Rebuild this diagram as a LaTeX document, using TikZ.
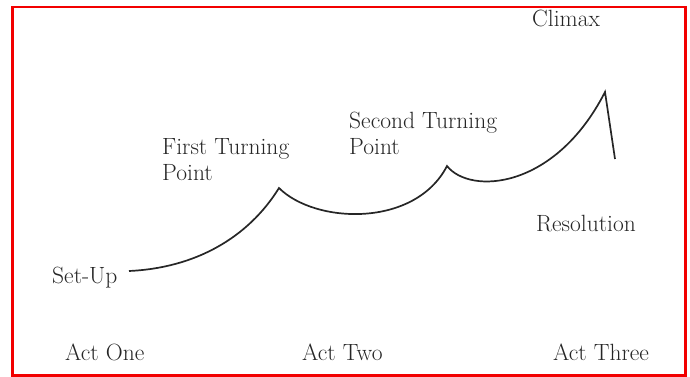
\documentclass[tikz,border=0pt]{standalone}
\usepackage{xcolor}
\usepackage{tikz}
\usetikzlibrary{positioning,calc}
\definecolor{ink}{HTML}{262626}
\definecolor{frame}{HTML}{F20000}
\tikzset{
  lbl/.style={font=\fontsize{23.5}{26}\selectfont,text=ink,align=left,inner sep=0pt,anchor=base west},
  arc/.style={draw=ink,line width=1.7pt,line join=miter},
  border/.style={draw=frame,line width=2.2pt},
}

\begin{document}
\begin{tikzpicture}[x=1pt,y=-1pt]
    \useasboundingbox (0,0) rectangle (690,377);
    \draw[border] (12.5,7) rectangle (685.5,375.5);
    % story curve
    \coordinate (setup) at (129,271);
    \coordinate (first) at (279,188);
    \coordinate (second) at (447,166);
    \coordinate (climax) at (605,92);
    \coordinate (resol) at (615,159);
    \draw[arc] (setup) .. controls (195,268) and (248,238) .. (first)
      .. controls (315,224) and (415,228) .. (second)
      .. controls (470,195) and (555,190) .. (climax) -- (resol);
    % labels
    \node[lbl] (lclimax) at (532,27) {Climax};
    \node[lbl] (lfirst) at (162,180) {First Turning\\Point};
    \node[lbl] (lsecond) at (349,154) {Second Turning\\Point};
    \node[lbl] (lresol) at (536,231) {Resolution};
    \node[lbl] (lsetup) at (52,283) {Set-Up};
    \node[lbl] (actone) at (65,360) {Act One};
    \node[lbl] (acttwo) at (302,360) {Act Two};
    \node[lbl] (actthree) at (553,360) {Act Three};
  \end{tikzpicture}
\end{document}
